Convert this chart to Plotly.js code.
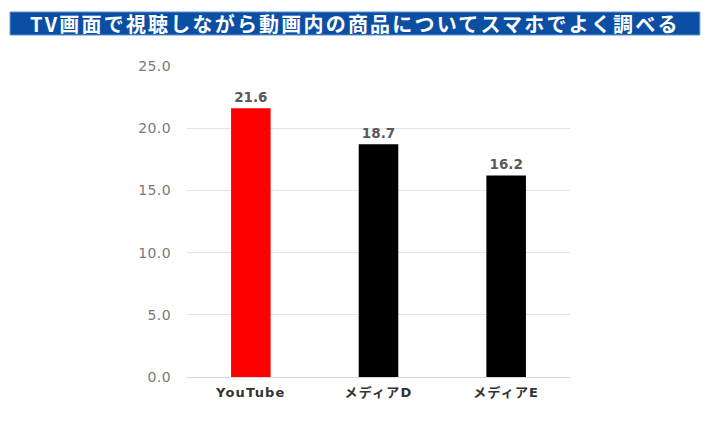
<!DOCTYPE html>
<html><head><meta charset="utf-8">
<script src="https://cdn.plot.ly/plotly-3.0.1.min.js"></script>
<style>
html,body{margin:0;padding:0;background:#fff}#chart{width:709px;height:422px}
#chart .xtick text{letter-spacing:1.2px}
#chart .ytick text{letter-spacing:0.4px}
#chart .textpoint text{letter-spacing:0.3px}
#chart .annotation-text{letter-spacing:2.2px}
</style>
</head><body><div id="chart"></div>
<script>
var categories = ["YouTube", "メディアD", "メディアE"];
var values = [21.6, 18.7, 16.2];
var barColors = ["#ff0000", "#000000", "#000000"];
var chartTitle = "TV画面で視聴しながら動画内の商品についてスマホでよく調べる";
var yTicks = [0, 5, 10, 15, 20, 25];

var trace = {
  type: "bar",
  x: categories,
  y: values,
  marker: {color: barColors},
  text: values.map(function(v){return v.toFixed(1);}),
  textposition: "outside",
  cliponaxis: false,
  textfont: {family: "DejaVu Sans, Noto Sans CJK JP", size: 13.5, color: "#595959", weight: 600},
  hoverinfo: "none"
};
var layout = {
  width: 709, height: 422,
  margin: {l: 187, r: 139, t: 66, b: 45},
  paper_bgcolor: "#fff", plot_bgcolor: "#fff",
  bargap: 0.69,
  showlegend: false,
  font: {family: "DejaVu Sans, Noto Sans CJK JP", color: "#666"},
  xaxis: {
    showgrid: false, showline: false, zeroline: false,
    tickfont: {family: "DejaVu Sans, Noto Sans CJK JP", size: 13, color: "#333", weight: 600},
    ticks: "", ticklen: 0, ticklabelstandoff: 6
  },
  yaxis: {
    range: [0, 25], tickvals: yTicks, tickformat: ".1f",
    showgrid: true, gridcolor: "#e3e3e3", gridwidth: 1,
    zeroline: true, zerolinecolor: "#d9d9d9", zerolinewidth: 1,
    showline: false, ticks: "", ticklabelstandoff: 15,
    tickfont: {size: 14, color: "#7a7a7a"}
  },
  shapes: [{
    type: "rect", xref: "paper", yref: "paper",
    x0: -0.462, x1: 1.339, y0: 1.0997, y1: 1.1736,
    fillcolor: "#0b4fa5", line: {width: 1, color: "#5a8fd0"}, layer: "below"
  }],
  annotations: [{
    xref: "paper", yref: "paper", x: (355-187)/383, y: 1.1366,
    xanchor: "center", yanchor: "middle", showarrow: false,
    text: chartTitle,
    font: {family: "Noto Sans CJK JP", size: 20, color: "#fff", weight: 600}
  }]
};
Plotly.newPlot("chart", [trace], layout, {displayModeBar: false, staticPlot: true});
</script></body></html>
